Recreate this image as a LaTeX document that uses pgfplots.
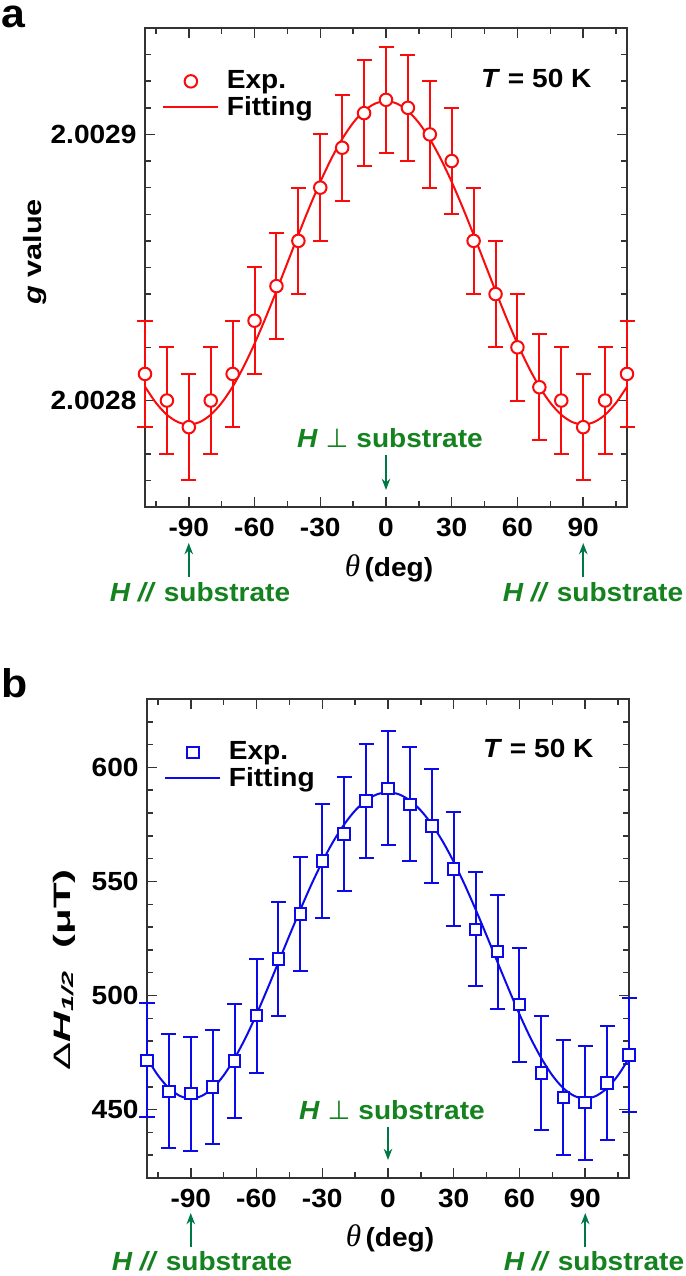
\documentclass[border=0pt]{standalone}
\usepackage{fontspec}
\setmainfont{Liberation Sans}[FakeStretch=1.07]
\newfontfamily\seriffont{Liberation Serif}
\newfontfamily\dejavu{DejaVu Sans}
\usepackage{pgfplots}
\pgfplotsset{compat=1.18}
\usepackage{pgfplotstable}
\usetikzlibrary{arrows.meta}
\definecolor{myred}{RGB}{250,10,10}
\definecolor{myblue}{RGB}{10,10,235}
\definecolor{mygreen}{RGB}{20,130,30}
\definecolor{arrgreen}{RGB}{0,120,70}

\pgfplotstableread{
x y e
-110 1.0 2
-100 0.0 2
-90 -1.0 2
-80 0.0 2
-70 1.0 2
-60 3.0 2
-50 4.3 2
-40 6.0 2
-30 8.0 2
-20 9.5 2
-10 10.8 2
0 11.3 2
10 11.0 2
20 10.0 2
30 9.0 2
40 6.0 2
50 4.0 2
60 2.0 2
70 0.5 2
80 0.0 2
90 -1.0 2
100 0.0 2
110 1.0 2
}\tabG

\pgfplotstableread{
x y
-110 0.521
-105 -0.086
-100 -0.534
-95 -0.808
-90 -0.900
-85 -0.808
-80 -0.534
-75 -0.086
-70 0.521
-65 1.270
-60 2.138
-55 3.097
-50 4.120
-45 5.175
-40 6.230
-35 7.253
-30 8.213
-25 9.080
-20 9.829
-15 10.436
-10 10.884
-5 11.158
0 11.250
5 11.158
10 10.884
15 10.436
20 9.829
25 9.080
30 8.213
35 7.253
40 6.230
45 5.175
50 4.120
55 3.097
60 2.138
65 1.270
70 0.521
75 -0.086
80 -0.534
85 -0.808
90 -0.900
95 -0.808
100 -0.534
105 -0.086
110 0.521
}\tabGfit

\pgfplotstableread{
x y e
-110 471.6 25
-100 458.0 25
-90 457.0 25
-80 459.8 25
-70 471.2 25
-60 491.2 25
-50 516.0 25
-40 535.8 25
-30 558.9 25
-20 570.8 25
-10 585.3 25
0 590.8 25
10 583.8 25
20 574.4 25
30 555.5 25
40 529.0 25
50 519.2 25
60 496.0 25
70 466.0 25
80 455.3 25
90 453.0 25
100 461.6 25
110 473.9 25
}\tabD

\pgfplotstableread{
x y
-110 472.5
-105 465.0
-100 459.4
-95 456.0
-90 454.8
-85 456.0
-80 459.4
-75 465.0
-70 472.5
-65 481.5
-60 491.8
-55 503.0
-50 514.6
-45 526.3
-40 537.7
-35 548.6
-30 558.6
-25 567.5
-20 575.0
-15 581.1
-10 585.5
-5 588.2
0 589.1
5 588.2
10 585.5
15 581.1
20 575.0
25 567.5
30 558.6
35 548.6
40 537.7
45 526.3
50 514.6
55 503.0
60 491.8
65 481.5
70 472.5
75 465.0
80 459.4
85 456.0
90 454.8
95 456.0
100 459.4
105 465.0
110 472.5
}\tabDfit

\pgfplotsset{
  panel/.style={
    anchor=south west,
    width=192.8pt, height=191.6pt, scale only axis,
    xmin=-110, xmax=110,
    xtick={-90,-60,-30,0,30,60,90},
    xticklabels={-90,-60,-30,0,30,60,90},
    minor xtick={-105,-75,-45,-15,15,45,75,105},
    tick align=inside, tick pos=both,
    major tick length=4pt, minor tick length=2.4pt,
    tick style={line width=0.6pt, black!80},
    axis line style={line width=0.7pt, black!80},
    every tick label/.append style={font=\fontsize{10.5}{12}\selectfont\bfseries, inner sep=0pt},
    xticklabel style={yshift=-4.4pt},
    yticklabel style={xshift=-3.2pt},
    clip=false,
    legend style={at={(0.035,0.915)}, anchor=north west, draw=none, fill=none,
      font=\fontsize{10.5}{11}\selectfont\bfseries, inner sep=0pt,
      row sep=0.5pt, column sep=2.5pt, nodes={inner sep=0.5pt, anchor=west}},
    legend cell align=left,
    legend image code/.code={\draw[mark repeat=2,mark phase=2,##1] plot coordinates {(0pt,0pt) (11pt,0pt) (22pt,0pt)};},
  },
  ebar/.style={error bars/.cd, y dir=both, y explicit,
    error mark=-,
    error bar style={line width=0.8pt, #1},
    error mark options={rotate=90, line width=0.8pt, mark size=3pt, #1}},
}

\begin{document}
\begin{tikzpicture}
\path[use as bounding box] (0,0) rectangle (274pt,510.4pt);

% ---------------- panel a ----------------
\begin{axis}[panel, at={(58pt,307.6pt)},
  ymin=-4, ymax=14,
  ytick={0,10}, yticklabels={2.0028,2.0029},
  minor ytick={-3,-2,-1,1,2,3,4,5,6,7,8,9,11,12,13},
]
\addplot[myred, line width=0.8pt, smooth, forget plot] table[x=x,y=y]{\tabGfit};
\addplot[myred, only marks, mark=*, mark size=2.5pt,
  mark options={line width=0.8pt, fill=white, draw=myred},
  ebar=myred] table[x=x,y=y,y error=e]{\tabG};
\addlegendentry{Exp.}
\addlegendimage{myred, line width=0.8pt}
\addlegendentry{Fitting}
\end{axis}

% ---------------- panel b ----------------
\begin{axis}[panel, at={(58.8pt,39.2pt)},
  ymin=420, ymax=630,
  ytick={450,500,550,600}, yticklabels={450,500,550,600},
  minor ytick={430,440,460,470,480,490,510,520,530,540,560,570,580,590,610,620},
]
\addplot[myblue, line width=0.8pt, smooth, forget plot] table[x=x,y=y]{\tabDfit};
\addplot[myblue, only marks, mark=square*, mark size=2.3pt,
  mark options={line width=0.8pt, fill=white, draw=myblue},
  ebar=myblue] table[x=x,y=y,y error=e]{\tabD};
\addlegendentry{Exp.}
\addlegendimage{myblue, line width=0.8pt}
\addlegendentry{Fitting}
\end{axis}

% ---------------- annotations a ----------------
\node[anchor=base west, inner sep=0pt, font=\fontsize{16}{18}\selectfont\bfseries] at (0.5pt,499.2pt) {a};
\node[anchor=base east, inner sep=0pt, font=\fontsize{10.5}{12}\selectfont\bfseries] at (236.8pt,475.2pt) {\textit{T} = 50 K};
\node[rotate=90, inner sep=0pt, font=\fontsize{10}{11}\selectfont\bfseries] at (14pt,409.6pt) {\scalebox{1.15}[1]{\textit{g} value}};
\node[anchor=base, inner sep=0pt, font=\fontsize{10.5}{12}\selectfont\bfseries] at (155.6pt,279.6pt) {{\seriffont\mdseries\itshape\fontsize{12.5}{13}\selectfont θ}\,(deg)};
\node[anchor=base, inner sep=0pt, text=mygreen, font=\fontsize{10.5}{12}\selectfont\bfseries] at (156pt,331.2pt) {\textit{H} {\dejavu\mdseries ⊥} substrate};
\draw[arrgreen, line width=0.7pt, -{Stealth[length=4.5pt,width=3.4pt]}] (154.4pt,328.4pt) -- (154.4pt,314.4pt);
\draw[arrgreen, line width=0.7pt, -{Stealth[length=4.5pt,width=3.4pt]}] (75.5pt,279.6pt) -- (75.5pt,293.2pt);
\draw[arrgreen, line width=0.7pt, -{Stealth[length=4.5pt,width=3.4pt]}] (233.3pt,279.6pt) -- (233.3pt,293.2pt);
\node[anchor=base, inner sep=0pt, text=mygreen, font=\fontsize{10.5}{12}\selectfont\bfseries] at (80pt,269.6pt) {\textit{H //} substrate};
\node[anchor=base, inner sep=0pt, text=mygreen, font=\fontsize{10.5}{12}\selectfont\bfseries] at (237.2pt,269.6pt) {\textit{H //} substrate};

% ---------------- annotations b ----------------
\node[anchor=base west, inner sep=0pt, font=\fontsize{16}{18}\selectfont\bfseries] at (0.5pt,231.2pt) {b};
\node[anchor=base east, inner sep=0pt, font=\fontsize{10.5}{12}\selectfont\bfseries] at (237.6pt,207.2pt) {\textit{T} = 50 K};
\node[rotate=90, inner sep=0pt, font=\fontsize{9.5}{10}\selectfont\bfseries] at (25.6pt,122.4pt) {\scalebox{1.65}[1]{{\mdseries Δ}\textit{H}\raisebox{-0.3ex}{\fontsize{6.5}{7}\selectfont\itshape 1/2}\ \ (μT)}};
\node[anchor=base, inner sep=0pt, font=\fontsize{10.5}{12}\selectfont\bfseries] at (156pt,11.6pt) {{\seriffont\mdseries\itshape\fontsize{12.5}{13}\selectfont θ}\,(deg)};
\node[anchor=base, inner sep=0pt, text=mygreen, font=\fontsize{10.5}{12}\selectfont\bfseries] at (156.8pt,62.4pt) {\textit{H} {\dejavu\mdseries ⊥} substrate};
\draw[arrgreen, line width=0.7pt, -{Stealth[length=4.5pt,width=3.4pt]}] (155.2pt,59.6pt) -- (155.2pt,46.4pt);
\draw[arrgreen, line width=0.7pt, -{Stealth[length=4.5pt,width=3.4pt]}] (76.3pt,11.6pt) -- (76.3pt,25.2pt);
\draw[arrgreen, line width=0.7pt, -{Stealth[length=4.5pt,width=3.4pt]}] (234.1pt,11.6pt) -- (234.1pt,25.2pt);
\node[anchor=base, inner sep=0pt, text=mygreen, font=\fontsize{10.5}{12}\selectfont\bfseries] at (80.8pt,2.4pt) {\textit{H //} substrate};
\node[anchor=base, inner sep=0pt, text=mygreen, font=\fontsize{10.5}{12}\selectfont\bfseries] at (237.6pt,2.4pt) {\textit{H //} substrate};
\end{tikzpicture}
\end{document}
